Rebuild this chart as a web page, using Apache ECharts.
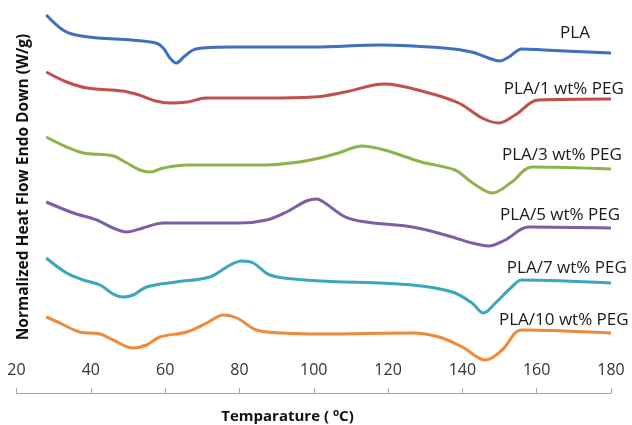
<!DOCTYPE html>
<html><head><meta charset="utf-8">
<script src="https://cdn.jsdelivr.net/npm/echarts@6/dist/echarts.min.js"></script>
<style>html,body{margin:0;padding:0;background:#fff}#c{width:632px;height:425px}</style>
</head><body><div id="c"></div>
<script>
// Temperature (°C), offset normalized heat flow (arbitrary units, endo down)
const PLA = [[28,37.8],[32.5,36.3],[36,35.8],[42,35.5],[51,35.3],[57.5,35.0],[59.5,34.5],[61.3,33.5],[63,33.0],[65,33.6],[67.5,34.3],[70,34.5],[78,34.6],[100,34.6],[118,34.8],[135,34.5],[142.5,34.1],[147,33.5],[150,33.2],[152.5,33.6],[156,34.4],[162,34.3],[180,34.0]];
const PEG1 = [[28,32.1],[33.5,31.1],[39,30.5],[48.5,30.2],[53,29.8],[57.5,29.2],[61.3,29.0],[66,29.1],[71,29.5],[87,29.5],[100,29.6],[108.5,30.1],[119,30.9],[130,30.1],[139,29.0],[145.3,27.5],[149.8,27.0],[154.2,27.8],[160.5,29.3],[180,29.4]];
const PEG3 = [[28,25.6],[33.5,24.6],[38,24.0],[46,23.7],[49.7,23.0],[53.2,22.3],[56,22.1],[59.5,22.5],[66,22.8],[87,22.8],[96,23.1],[101.7,23.5],[106.7,24.0],[113,24.7],[119,24.3],[129,23.1],[138,22.3],[141.7,21.3],[144,20.7],[148,20.0],[153.3,21.1],[158.7,22.6],[180,22.4]];
const PEG5 = [[28,19.1],[35.3,18.0],[41.6,17.3],[46,16.5],[49.7,16.1],[54,16.5],[59.5,17.0],[80,17.0],[87.3,17.3],[92.7,18.1],[98,19.2],[100.8,19.4],[103,19.0],[108.5,17.6],[114,17.1],[126.5,16.6],[135.4,15.8],[142.6,15.0],[147,14.7],[151.5,15.3],[157.8,16.6],[180,16.5]];
const PEG7 = [[28,13.5],[33.5,12.0],[38,11.3],[42.5,10.8],[46,9.9],[48.7,9.6],[51.4,9.8],[55,10.6],[63,11.1],[72,11.6],[77.5,12.8],[80.6,13.2],[83.7,13.0],[88.2,11.8],[94.5,11.4],[101.7,11.2],[126.5,10.8],[137.3,10.1],[142.6,9.0],[145.7,8.0],[148.9,9.0],[153.3,10.6],[156,11.3],[180,11.0]];
const PEG10 = [[28,7.6],[31.7,7.0],[37,6.1],[42.5,5.9],[46,5.3],[51.4,4.5],[55,4.8],[58.6,5.6],[65.8,6.1],[71.2,7.0],[75.7,7.8],[79.3,7.5],[84.6,6.3],[91.8,6.0],[101.7,5.9],[126.5,6.0],[133.7,5.6],[140,4.6],[146.2,3.3],[150.7,4.3],[156,6.3],[180,6.0]];
const seriesNames = ['PLA','PLA/1 wt% PEG','PLA/3 wt% PEG','PLA/5 wt% PEG','PLA/7 wt% PEG','PLA/10 wt% PEG'];
// label anchor positions in data coordinates [T, value]
const labelPos = [[170.3,36.0],[167.3,30.4],[166.8,23.8],[166.3,17.8],[168.1,12.5],[167.3,7.3]];
const xTicks = [20,40,60,80,100,120,140,160,180];

const colors = ['#3f6fbf','#c0504d','#8fb24a','#7f5fa4','#3aa6c0','#ef8a3a'];
const all = [PLA,PEG1,PEG3,PEG5,PEG7,PEG10];
const chart = echarts.init(document.getElementById('c'));
const option = {
  animation:false,
  grid:{left:16.5,right:21,top:0,bottom:32},
  xAxis:{type:'value',min:xTicks[0],max:xTicks[xTicks.length-1],interval:20,
    axisLine:{show:true,lineStyle:{color:'#a6a6a6',width:1.2}},
    axisTick:{show:true,inside:true,length:5,lineStyle:{color:'#a6a6a6'}},
    axisLabel:{inside:true,margin:15,color:'#333',fontSize:16,fontFamily:'Open Sans'},
    splitLine:{show:false}},
  yAxis:{type:'value',min:0,max:39.3,show:false},
  series: all.map((d,i)=>({type:'line',name:seriesNames[i],data:d,smooth:0.35,symbol:'none',
    lineStyle:{color:colors[i],width:3}}))
};
chart.setOption(option);
const g = [];
seriesNames.forEach((n,i)=>{
  const p = chart.convertToPixel({gridIndex:0}, labelPos[i]);
  g.push({type:'text',x:p[0],y:p[1],style:{text:n,fill:'#1a1a1a',font:'17px "Open Sans"',textAlign:'center',textVerticalAlign:'middle'}});
});
g.push({type:'text',x:24,y:187,rotation:Math.PI/2,style:{text:'Normalized Heat Flow Endo Down (W/g)',fill:'#111',font:'bold 15.5px "Open Sans"',textAlign:'center',textVerticalAlign:'middle'}});
g.push({type:'text',x:287.5,y:416.5,style:{rich:{b:{font:'bold 15px "Open Sans"',fill:'#111'},s:{font:'bold 10px "Open Sans"',fill:'#111',verticalAlign:'top',padding:[0,0,6,0]}},text:'{b|Temparature ( }{s|o}{b|C)}',textAlign:'center',textVerticalAlign:'middle'}});
chart.setOption({graphic:g});
</script></body></html>
